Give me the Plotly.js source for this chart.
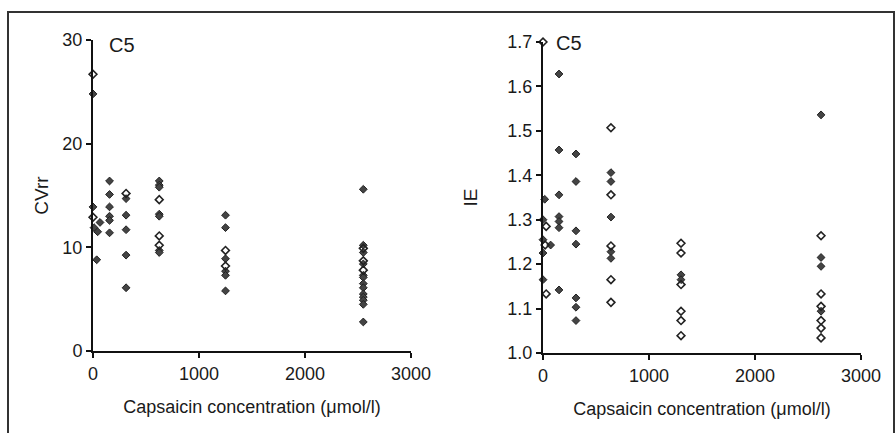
<!DOCTYPE html>
<html>
<head>
<meta charset="utf-8">
<script src="https://cdn.plot.ly/plotly-3.0.1.min.js"></script>
<style>html,body{margin:0;padding:0;background:#fff;}#chart{width:896px;height:433px;}</style>
</head>
<body>
<div id="chart"></div>
<script>
// ---- Left panel: CVrr vs capsaicin concentration ----
const cvrrFilledX = [0, 0, 66, 10, 44, 35,
  156, 156, 156, 156, 156, 156,
  312, 312, 312, 312, 312,
  625, 625, 625, 625, 625, 625, 625,
  1250, 1250, 1250, 1250, 1250, 1250,
  2550, 2550, 2550, 2550, 2550, 2550, 2550, 2550, 2550, 2550, 2550, 2550, 2550];
const cvrrFilledY = [24.8, 13.9, 12.4, 11.9, 11.5, 8.8,
  16.4, 15.1, 13.9, 13.0, 12.6, 11.4,
  14.7, 13.1, 11.7, 9.25, 6.1,
  16.4, 16.0, 15.8, 13.2, 13.0, 9.7, 9.5,
  13.1, 11.9, 8.9, 7.7, 7.3, 5.8,
  15.6, 10.2, 9.5, 8.4, 7.3, 7.1, 6.5, 6.1, 5.5, 5.2, 4.9, 4.5, 2.8];
const cvrrOpenX = [0, 0, 312, 625, 625, 625, 1250, 1250, 2550, 2550, 2550];
const cvrrOpenY = [26.7, 12.9, 15.2, 14.6, 11.1, 10.2, 9.7, 8.2, 9.9, 8.7, 7.8];

// ---- Right panel: IE vs capsaicin concentration ----
const ieFilledX = [16, 0, 0, 72, 0, 0,
  151, 151, 151, 151, 151, 151, 151,
  311, 311, 311, 311, 311, 311, 311,
  641, 641, 641, 641, 641,
  1302, 1302,
  2623, 2623, 2623, 2623];
const ieFilledY = [1.346, 1.30, 1.255, 1.243, 1.225, 1.165,
  1.628, 1.457, 1.356, 1.307, 1.296, 1.282, 1.142,
  1.448, 1.386, 1.275, 1.245, 1.124, 1.103, 1.073,
  1.406, 1.386, 1.306, 1.228, 1.213,
  1.176, 1.165,
  1.536, 1.215, 1.195, 1.094];
const ieOpenX = [0, 30, 20, 30,
  641, 641, 641, 641, 641,
  1302, 1302, 1302, 1302, 1302, 1302,
  2623, 2623, 2623, 2623, 2623, 2623];
const ieOpenY = [1.70, 1.285, 1.243, 1.133,
  1.507, 1.356, 1.241, 1.165, 1.114,
  1.247, 1.225, 1.154, 1.094, 1.073, 1.039,
  1.264, 1.133, 1.105, 1.073, 1.056, 1.034];

const xTicks = [0, 1000, 2000, 3000];
const xTickText = ['0', '1000', '2000', '3000'];
const xTitle = 'Capsaicin concentration (μmol/l)';
const panelLabel = 'C5';

const FONT = 'Liberation Sans, Arial, sans-serif';
const TXT = '#1a1a1a';
const filledMarker = {symbol: 'diamond', size: 6, color: '#444', line: {color: '#222', width: 1}};
const openMarker = {symbol: 'diamond-open', size: 6, color: '#222', line: {width: 1.6}};

const traces = [
  {x: cvrrFilledX, y: cvrrFilledY, xaxis: 'x', yaxis: 'y', mode: 'markers', type: 'scatter', marker: filledMarker, cliponaxis: false, name: 'filled'},
  {x: cvrrOpenX, y: cvrrOpenY, xaxis: 'x', yaxis: 'y', mode: 'markers', type: 'scatter', marker: openMarker, cliponaxis: false, name: 'open'},
  {x: ieFilledX, y: ieFilledY, xaxis: 'x2', yaxis: 'y2', mode: 'markers', type: 'scatter', marker: filledMarker, cliponaxis: false, name: 'filled'},
  {x: ieOpenX, y: ieOpenY, xaxis: 'x2', yaxis: 'y2', mode: 'markers', type: 'scatter', marker: openMarker, cliponaxis: false, name: 'open'}
];

function xAxis(domain, anchor) {
  return {
    domain: domain, anchor: anchor, range: [0, 3000],
    tickvals: xTicks, ticktext: xTickText,
    showline: true, linecolor: '#111', linewidth: 2,
    ticks: 'outside', ticklen: 5, tickwidth: 2, tickcolor: '#111',
    showgrid: false, zeroline: false,
    tickfont: {family: FONT, size: 18, color: TXT},
    title: {text: xTitle, font: {family: FONT, size: 18, color: TXT}, standoff: 18},
    automargin: false
  };
}
function yAxis(domain, anchor, range, dtick, fmt, title, standoff) {
  return {
    domain: domain, anchor: anchor, range: range, dtick: dtick, tick0: range[0], tickformat: fmt,
    showline: true, linecolor: '#111', linewidth: 2,
    ticks: 'outside', ticklen: 5, tickwidth: 2, tickcolor: '#111',
    showgrid: false, zeroline: false,
    tickfont: {family: FONT, size: 18, color: TXT},
    title: {text: title, font: {family: FONT, size: 19, color: TXT}, standoff: standoff},
    automargin: false
  };
}

const layout = {
  width: 896, height: 433,
  margin: {l: 0, r: 0, t: 0, b: 0},
  paper_bgcolor: '#fff', plot_bgcolor: '#fff',
  showlegend: false,
  xaxis: xAxis([93/896, 411/896], 'y'),
  yaxis: yAxis([1 - 351/433, 1 - 40/433], 'x', [0, 30], 10, 'd', 'CVrr', 9),
  xaxis2: xAxis([543/896, 861/896], 'y2'),
  yaxis2: yAxis([1 - 353/433, 1 - 42/433], 'x2', [1.0, 1.7], 0.1, '.1f', 'IE', 25),
  annotations: [
    {text: panelLabel, xref: 'paper', yref: 'paper', x: 107/896, y: 1 - 45/433, xanchor: 'left', yanchor: 'middle', showarrow: false, font: {family: FONT, size: 20, color: TXT}},
    {text: panelLabel, xref: 'paper', yref: 'paper', x: 554/896, y: 1 - 43/433, xanchor: 'left', yanchor: 'middle', showarrow: false, font: {family: FONT, size: 20, color: TXT}}
  ],
  shapes: [
    {type: 'rect', xref: 'paper', yref: 'paper', x0: 8/896, x1: 894/896, y0: -0.05, y1: 1 - 12/433, line: {color: '#333', width: 2}, fillcolor: 'rgba(0,0,0,0)'}
  ]
};

Plotly.newPlot('chart', traces, layout, {displayModeBar: false, staticPlot: true});
</script>
</body>
</html>
